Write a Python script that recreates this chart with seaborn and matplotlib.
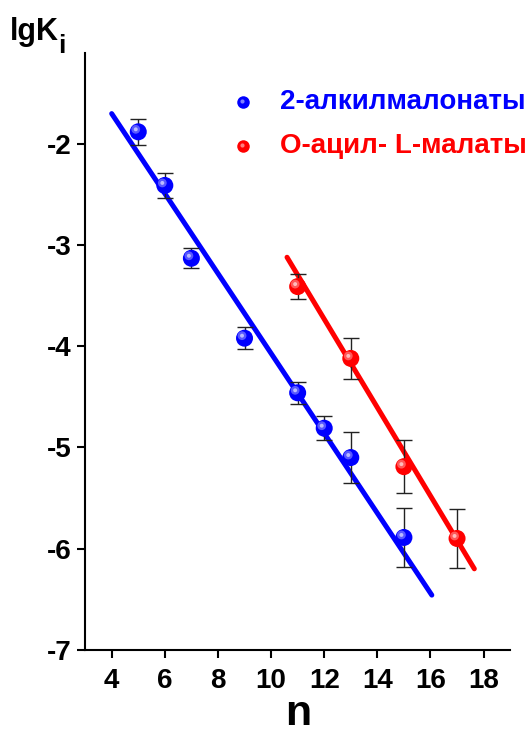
import numpy as np
import pandas as pd
import matplotlib
matplotlib.use("Agg")
import matplotlib.pyplot as plt
import matplotlib.transforms as mtransforms
import seaborn as sns

# ---- data ----
n_mal = [5, 6, 7, 9, 11, 12, 13, 15]
lgk_mal = [-1.88, -2.41, -3.13, -3.92, -4.46, -4.81, -5.10, -5.89]
err_mal = [0.13, 0.12, 0.10, 0.11, 0.11, 0.12, 0.25, 0.29]

n_mlt = [11, 13, 15, 17]
lgk_mlt = [-3.41, -4.12, -5.19, -5.90]
err_mlt = [0.12, 0.20, 0.26, 0.29]

fit_mal_x = [4.0, 16.05]
fit_mal_y = [-1.70, -6.46]
fit_mlt_x = [10.6, 17.65]
fit_mlt_y = [-3.12, -6.20]

labels = ["2-алкилмалонаты", "О-ацил- L-малаты"]
colors = ["#0000ff", "#ff0000"]
xticks = [4, 6, 8, 10, 12, 14, 16, 18]
yticks = [-7, -6, -5, -4, -3, -2]

sns.set_style("white")
plt.rcParams['font.family'] = ['Liberation Sans', 'DejaVu Sans']
plt.rcParams['font.weight'] = 'bold'
plt.rcParams['text.color'] = 'black'
plt.rcParams['xtick.color'] = 'black'
plt.rcParams['ytick.color'] = 'black'
plt.rcParams['axes.labelcolor'] = 'black'

fig = plt.figure(figsize=(5.32, 7.35), dpi=100)
ax = fig.add_axes([0.160, 0.116, 0.799, 0.812])

df_fit1 = pd.DataFrame({"n": fit_mal_x, "y": fit_mal_y})
df_fit2 = pd.DataFrame({"n": fit_mlt_x, "y": fit_mlt_y})
sns.lineplot(data=df_fit1, x="n", y="y", ax=ax, color=colors[0], lw=3.6,
             solid_capstyle="round", zorder=2)
sns.lineplot(data=df_fit2, x="n", y="y", ax=ax, color=colors[1], lw=3.6,
             solid_capstyle="round", zorder=2)

for xs, ys, es in [(n_mal, lgk_mal, err_mal), (n_mlt, lgk_mlt, err_mlt)]:
    ax.errorbar(xs, ys, yerr=es, fmt="none", ecolor="#222222", elinewidth=1.0,
                capsize=5.8, capthick=1.0, zorder=3)

hl = mtransforms.offset_copy(ax.transData, fig=fig, x=-2.5, y=2.5, units='dots')
for xs, ys, c in [(n_mal, lgk_mal, colors[0]), (n_mlt, lgk_mlt, colors[1])]:
    df = pd.DataFrame({"n": xs, "y": ys})
    sns.scatterplot(data=df, x="n", y="y", ax=ax, color=c, s=150,
                    edgecolor="none", linewidth=0, zorder=4)
    ax.scatter(xs, ys, s=40, color="white", alpha=0.35, edgecolor="none",
               transform=hl, zorder=5)
    ax.scatter(xs, ys, s=8, color="white", alpha=0.6, edgecolor="none",
               transform=hl, zorder=6)

ax.set_xlim(3, 19)
ax.set_ylim(-7, -1.1)
ax.set_xticks(xticks)
ax.set_yticks(yticks)
ax.set_xticklabels([str(t) for t in xticks], fontsize=20, fontweight='bold')
ax.set_yticklabels([str(t) for t in yticks], fontsize=20, fontweight='bold')
ax.tick_params(axis='both', direction='out', length=6, width=1.5, color='black',
               bottom=True, left=True)
ax.tick_params(axis='x', pad=7)
ax.tick_params(axis='y', pad=4)
ax.set_xlabel("")
ax.set_ylabel("")
for s in ["top", "right"]:
    ax.spines[s].set_visible(False)
for s in ["left", "bottom"]:
    ax.spines[s].set_color("black")
    ax.spines[s].set_linewidth(1.5)

fig.text(298 / 532, 1 / 735, "n", fontsize=31, fontweight='bold',
         ha='center', va='bottom')
fig.text(10 / 532, 1 - 40 / 735, "lgK", fontsize=22, fontweight='bold',
         ha='left', va='baseline')
fig.text(58 / 532, 1 - 53 / 735, "i", fontsize=19, fontweight='bold',
         ha='left', va='baseline')

# legend (drawn manually in figure fraction)
leg_y = [1 - 102 / 735, 1 - 146 / 735]
for lab, c, yy in zip(labels, colors, leg_y):
    fig.add_artist(plt.Line2D([243 / 532], [yy], marker='o', ms=9, color=c,
                              mec='none', transform=fig.transFigure))
    fig.add_artist(plt.Line2D([241.5 / 532], [yy + 1.5 / 735], marker='o', ms=3,
                              color='white', alpha=0.5, mec='none',
                              transform=fig.transFigure))
    fig.text(280 / 532, yy, lab, color=c, fontsize=20, fontweight='bold',
             ha='left', va='center')

fig.savefig("out.png", dpi=100)
